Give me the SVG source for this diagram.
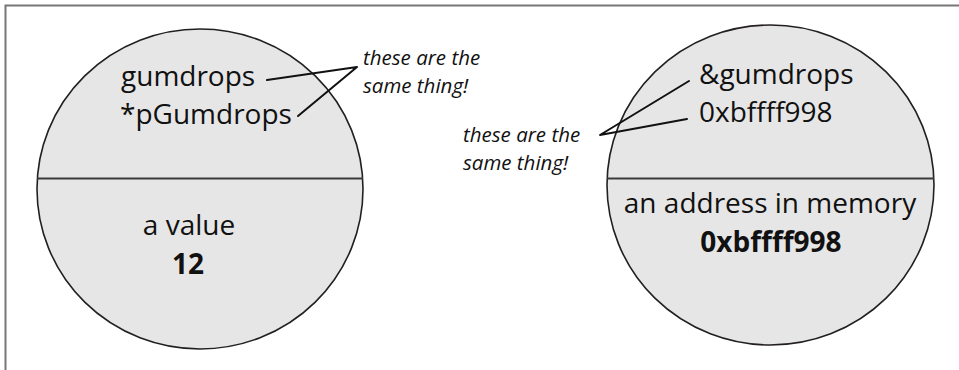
<svg xmlns="http://www.w3.org/2000/svg" width="959" height="370" viewBox="0 0 959 370">
<style>
.bg{fill:#ffffff}
.frame{stroke:#777777;stroke-width:2;fill:none}
.shape{fill:#e6e6e6;stroke:#231f20;stroke-width:1.6}
.divider{stroke:#3a3a3a;stroke-width:2.2}
.t{font-family:"Open Sans","Liberation Sans",sans-serif;font-size:28px;fill:#111111}
.b{font-family:"Open Sans","Liberation Sans",sans-serif;font-size:28px;font-weight:bold;fill:#111111}
.note{font-family:"Open Sans","Liberation Sans",sans-serif;font-size:20.5px;font-style:italic;fill:#111111}
.conn{stroke:#111111;stroke-width:2;fill:none;stroke-linecap:round;stroke-linejoin:round}
</style>
<rect class="bg" x="0" y="0" width="959" height="370"/>
<path class="frame" d="M5.5,370 V5.5 H959"/>
<g id="value-node">
  <ellipse class="shape" cx="200" cy="189" rx="163" ry="160"/>
  <line class="divider" x1="37" y1="178.5" x2="363" y2="178.5"/>
  <text class="t" x="121" y="86">gumdrops</text>
  <text class="t" x="120" y="124">*pGumdrops</text>
  <text class="t" x="189" y="235" text-anchor="middle">a value</text>
  <text class="b" x="188" y="274" text-anchor="middle">12</text>
</g>
<g id="address-node">
  <ellipse class="shape" cx="770.5" cy="185" rx="163.5" ry="160"/>
  <line class="divider" x1="607" y1="178.5" x2="934" y2="178.5"/>
  <text class="t" x="699" y="84">&amp;gumdrops</text>
  <text class="t" x="699" y="122">0xbffff998</text>
  <text class="t" x="770" y="213" text-anchor="middle">an address in memory</text>
  <text class="b" x="771" y="252" text-anchor="middle">0xbffff998</text>
</g>
<g id="note-left">
  <text class="note" x="363" y="65">these are the</text>
  <text class="note" x="363" y="93">same thing!</text>
</g>
<g id="note-right">
  <text class="note" x="463" y="142">these are the</text>
  <text class="note" x="463" y="170">same thing!</text>
</g>
<g id="connectors">
  <polyline class="conn" points="267,80 357,67 298,116"/>
  <polyline class="conn" points="689,81 600,135 687,119"/>
</g>
</svg>
